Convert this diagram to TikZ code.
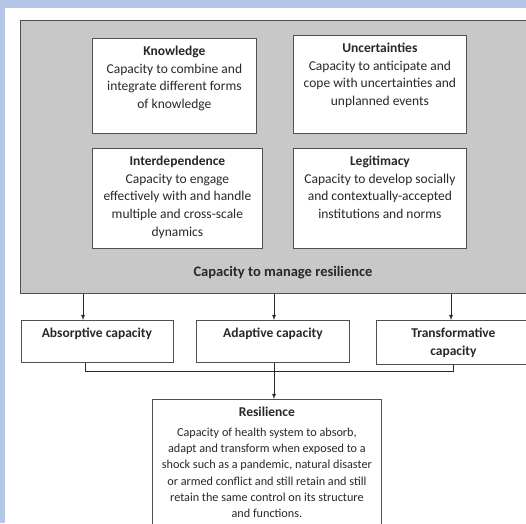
\documentclass[tikz,border=0pt]{standalone}
\usepackage{fontspec}
\setmainfont{Carlito}
\usetikzlibrary{arrows, positioning}

\definecolor{pageblue}{RGB}{180,199,231}
\definecolor{panelgray}{RGB}{200,200,200}
\definecolor{edgegray}{RGB}{80,80,80}
\definecolor{inkgray}{RGB}{40,40,40}

\newcommand{\capbody}[4]{\parbox[c][#2][t]{#1}{\centering\rule{0pt}{17pt}\textbf{#3}\\#4\par}}

\tikzset{
  capbox/.style={draw=edgegray, fill=white, line width=0.8pt, inner sep=0pt, anchor=north west,
    text=inkgray, font=\fontsize{13.5}{17.7}\selectfont},
  panel/.style={draw=edgegray, fill=panelgray, line width=0.9pt, inner sep=0pt, anchor=north west},
  link/.style={draw=inkgray, line width=0.8pt},
}

\begin{document}
\begin{tikzpicture}[>=latex, x=1pt, y=-1pt]

\useasboundingbox (0,0) rectangle (526,523);
\clip (0,0) rectangle (526,523);

\fill[pageblue] (0,0) rectangle (526,523);
\fill[white] (5,8) rectangle (530,530);

\node[panel, minimum width=520pt, minimum height=273pt] (manage) at (20,20) {};
\node[text=inkgray, font=\fontsize{14.5}{17.7}\selectfont\bfseries] (managelbl) at (283,273) {Capacity to manage resilience};

\node[capbox] (know) at (92,38) {\capbody{164pt}{95pt}{Knowledge}{Capacity to combine and\\integrate different forms\\of knowledge}};
\node[capbox] (uncert) at (293,35) {\capbody{173pt}{98pt}{Uncertainties}{Capacity to anticipate and\\cope with uncertainties and\\unplanned events}};
\node[capbox] (interdep) at (92,148) {\capbody{170pt}{100pt}{Interdependence}{Capacity to engage\\effectively with and handle\\multiple and cross-scale\\dynamics}};
\node[capbox] (legit) at (293,148) {\capbody{173pt}{100pt}{Legitimacy}{Capacity to develop socially\\and contextually-accepted\\institutions and norms}};

\node[capbox] (absorb) at (20.5,320) {\capbody{152pt}{42pt}{Absorptive capacity}{}};
\node[capbox] (adapt) at (196,320) {\capbody{153pt}{42pt}{Adaptive capacity}{}};
\node[capbox] (transf) at (376,320) {\capbody{154pt}{44pt}{Transformative}{\textbf{capacity}}};

\node[capbox, font=\fontsize{12.2}{16.2}\selectfont] (resil) at (152,399) {\parbox[c][140pt][t]{229pt}{\centering\rule{0pt}{17pt}{\fontsize{13.5}{16.2}\selectfont\textbf{Resilience}}\\[3.8pt]
  Capacity of health system to absorb,\\adapt and transform when exposed to a\\shock such as a pandemic, natural disaster\\or armed conflict and still retain and still\\retain the same control on its structure\\and functions.\par}};

\coordinate (c1) at (83,0);
\coordinate (c2) at (274,0);
\coordinate (c3) at (451,0);
\coordinate (b1) at (85,0);
\coordinate (b3) at (453,0);
\coordinate (join) at (0,371);

\draw[link, ->] (manage.south -| c1) -- (absorb.north -| c1);
\draw[link, ->] (manage.south -| c2) -- (adapt.north -| c2);
\draw[link, ->] (manage.south -| c3) -- (transf.north -| c3);

\draw[link] (absorb.south -| b1) |- (join -| b3) -- (transf.south -| b3);
\draw[link, ->] (adapt.south -| c2) -- (resil.north -| c2);

\end{tikzpicture}
\end{document}
